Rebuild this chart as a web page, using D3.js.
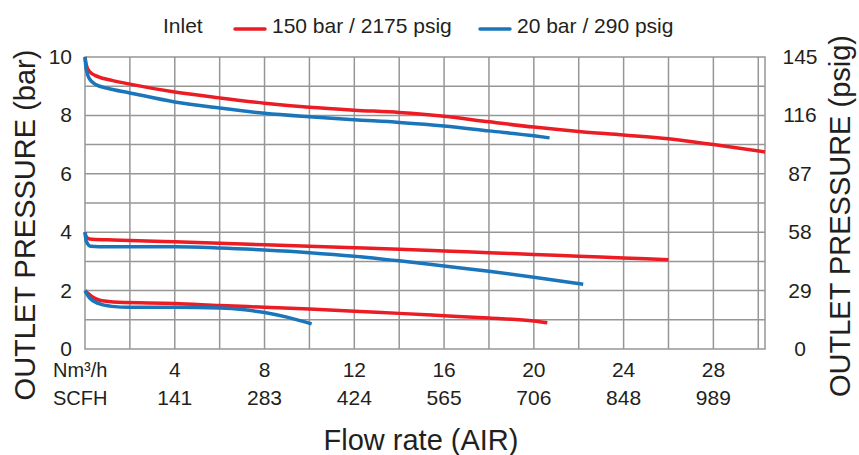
<!DOCTYPE html>
<html>
<head>
<meta charset="utf-8">
<script src="https://cdn.jsdelivr.net/npm/d3@7"></script>
<style>
  body { margin: 0; background: #fff; }
  text { font-family: "Liberation Sans", Arial, sans-serif; fill: #231f20; }
</style>
</head>
<body>
<div id="chart"></div>
<script>
// flow in Nm3/h, outlet pressure in bar
var nmTicks = [4, 8, 12, 16, 20, 24, 28];
var scfhTicks = [141, 283, 424, 565, 706, 848, 989];
var barTicks = [0, 2, 4, 6, 8, 10];
var psigTicks = [0, 29, 58, 87, 116, 145];

// 150 bar inlet (red)
var red10 = [[0,10],[0.05,9.75],[0.2,9.5],[0.6,9.32],[1.2,9.2],[2,9.07],[4,8.8],[6,8.6],[8,8.42],[10,8.28],[12,8.18],[14,8.1],[16,7.97],[18,7.78],[20,7.6],[22,7.45],[24,7.33],[26,7.2],[28,7.0],[30.3,6.75]];
var red4 = [[0,4],[0.05,3.85],[0.2,3.77],[1,3.74],[2,3.72],[4,3.67],[6,3.62],[8,3.57],[10,3.52],[12,3.47],[14,3.42],[16,3.36],[18,3.3],[20,3.24],[22,3.18],[24,3.12],[26,3.06]];
var red2 = [[0,2],[0.3,1.8],[0.7,1.66],[1.5,1.6],[4,1.56],[6,1.49],[8,1.43],[10,1.37],[12,1.29],[14,1.22],[16,1.14],[18,1.06],[20,0.96],[20.6,0.9]];
// 20 bar inlet (blue)
var blue10 = [[0,10],[0.05,9.6],[0.2,9.25],[0.5,9.05],[1,8.93],[2,8.77],[4,8.46],[6,8.25],[8,8.07],[10,7.95],[12,7.85],[14,7.76],[16,7.64],[18,7.47],[20,7.3],[20.7,7.23]];
var blue4 = [[0,4],[0.05,3.7],[0.25,3.52],[1,3.5],[4,3.5],[6,3.46],[8,3.39],[10,3.3],[12,3.18],[14,3.02],[16,2.84],[18,2.66],[20,2.46],[22.2,2.22]];
var blue2 = [[0,2],[0.2,1.75],[0.6,1.56],[1.2,1.46],[2,1.43],[4,1.43],[6,1.4],[7,1.35],[8,1.25],[9,1.09],[10.1,0.86]];

var red = "#ec1c24", blue = "#1b75bb", grid = "#969696";

var svg = d3.select("#chart").append("svg").attr("width", 859).attr("height", 455);

var x = d3.scaleLinear().domain([0, 30.3]).range([85, 765]);
var y = d3.scaleLinear().domain([0, 10]).range([349, 57]);

// grid
svg.append("g").selectAll("line").data(d3.range(2, 31, 2)).enter().append("line")
    .attr("x1", function (d) { return x(d); }).attr("x2", function (d) { return x(d); })
    .attr("y1", y(0)).attr("y2", y(10))
    .attr("stroke", grid).attr("stroke-width", 1.5);
svg.append("g").selectAll("line").data(d3.range(1, 10)).enter().append("line")
    .attr("y1", function (d) { return y(d); }).attr("y2", function (d) { return y(d); })
    .attr("x1", x(0)).attr("x2", x(30.3))
    .attr("stroke", grid).attr("stroke-width", 1.5);
svg.append("rect").attr("x", x(0)).attr("y", y(10))
    .attr("width", x(30.3) - x(0)).attr("height", y(0) - y(10))
    .attr("fill", "none").attr("stroke", grid).attr("stroke-width", 1.5);

// curves
var line = d3.line().x(function (d) { return x(d[0]); }).y(function (d) { return y(d[1]); })
    .curve(d3.curveMonotoneX);
var series = [[red10, red], [red4, red], [red2, red], [blue10, blue], [blue4, blue], [blue2, blue]];
series.forEach(function (s) {
    svg.append("path").attr("d", line(s[0])).attr("fill", "none")
        .attr("stroke", s[1]).attr("stroke-width", 3.5);
});

// left axis labels
svg.append("g").selectAll("text").data(barTicks).enter().append("text")
    .attr("x", 72).attr("y", function (d) { return y(d) + 7; })
    .attr("text-anchor", "end").style("font-size", "21px")
    .text(function (d) { return d; });
// right axis labels
svg.append("g").selectAll("text").data(psigTicks).enter().append("text")
    .attr("x", 800).attr("y", function (d, i) { return y(barTicks[i]) + 7; })
    .attr("text-anchor", "middle").style("font-size", "21px")
    .text(function (d) { return d; });

// bottom labels
svg.append("text").attr("x", 53).attr("y", 377).style("font-size", "20px").text("Nm³/h");
svg.append("text").attr("x", 53).attr("y", 405).style("font-size", "20px").text("SCFH");
svg.append("g").selectAll("text").data(nmTicks).enter().append("text")
    .attr("x", function (d) { return x(d); }).attr("y", 377)
    .attr("text-anchor", "middle").style("font-size", "21px")
    .text(function (d) { return d; });
svg.append("g").selectAll("text").data(scfhTicks).enter().append("text")
    .attr("x", function (d, i) { return x(nmTicks[i]); }).attr("y", 405)
    .attr("text-anchor", "middle").style("font-size", "21px")
    .text(function (d) { return d; });

// titles
svg.append("text").attr("x", 421).attr("y", 450).attr("text-anchor", "middle")
    .style("font-size", "29px").text("Flow rate (AIR)");
svg.append("text").attr("transform", "translate(35,225) rotate(-90)")
    .attr("text-anchor", "middle").style("font-size", "29px").text("OUTLET PRESSURE (bar)");
svg.append("text").attr("transform", "translate(850,216) rotate(-90)")
    .attr("text-anchor", "middle").style("font-size", "29px").text("OUTLET PRESSURE (psig)");

// legend
svg.append("text").attr("x", 163).attr("y", 33).style("font-size", "21px").text("Inlet");
var legend = [["150 bar / 2175 psig", red, 235], ["20 bar / 290 psig", blue, 480]];
legend.forEach(function (l) {
    svg.append("line").attr("x1", l[2]).attr("x2", l[2] + 30).attr("y1", 29).attr("y2", 29)
        .attr("stroke", l[1]).attr("stroke-width", 3.5).attr("stroke-linecap", "round");
    svg.append("text").attr("x", l[2] + 37).attr("y", 33).style("font-size", "21px").text(l[0]);
});
</script>
</body>
</html>
